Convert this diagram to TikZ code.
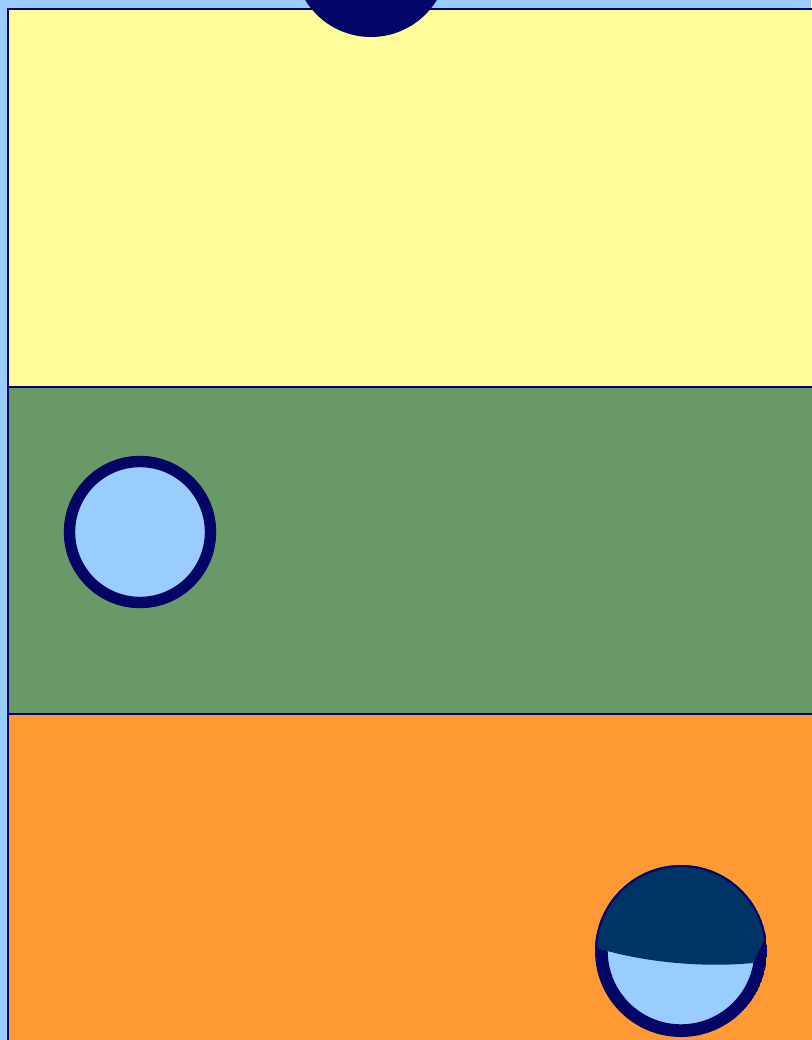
\documentclass[tikz,border=0pt]{standalone}
\usetikzlibrary{calc}
\definecolor{ppSky}{RGB}{153,204,255}
\definecolor{ppYellow}{RGB}{255,253,153}
\definecolor{ppGreen}{RGB}{104,153,102}
\definecolor{ppOrange}{RGB}{255,153,51}
\definecolor{ppNavy}{RGB}{2,4,102}
\definecolor{ppCap}{RGB}{0,51,102}

\begin{document}
\begin{tikzpicture}[
    x=0.02cm, y=-0.02cm,
    band/.style={draw=ppNavy, line width=1.1pt},
    ball/.style={fill=ppSky, draw=ppNavy, line width=6.5pt}
]
  \fill[ppSky] (0,0) rectangle (811,1040);
  \useasboundingbox (0,0) rectangle (811,1040);

  \filldraw[band, fill=ppYellow] (8,9) rectangle (830,387);
  \filldraw[band, fill=ppGreen] (8,387) rectangle (830,714);
  \filldraw[band, fill=ppOrange] (8,714) rectangle (830,1060);

  \coordinate (sun) at (371,-40);
  \coordinate (ballL) at (140,532);
  \coordinate (ballR) at (681,951);

  \fill[ppNavy] (sun) circle (77);
  \draw[ball] (ballL) circle (70.5);
  \draw[ball] (ballR) circle (79);

  \begin{scope}
    \clip (ballR) circle (86);
    \fill[ppCap] (590,850) -- (590,946) .. controls (640,962) and (700,968) .. (753,963)
      -- (768,932) -- (775,850) -- cycle;
    \draw[ppNavy, line width=1.2pt] (ballR) circle (85);
  \end{scope}
\end{tikzpicture}
\end{document}
